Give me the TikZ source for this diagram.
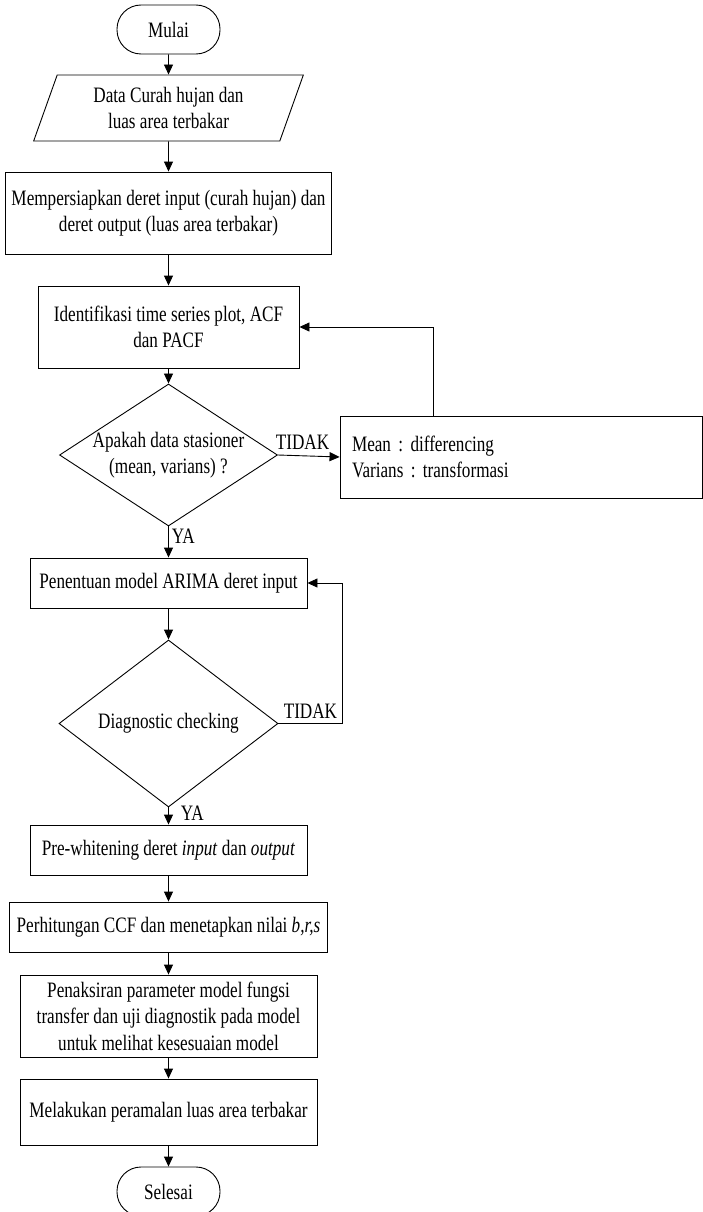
\documentclass[tikz,border=0pt]{standalone}
\usepackage{fontspec}
\setmainfont{Liberation Serif}[FakeStretch=0.78]
\usetikzlibrary{arrows.meta, shapes.geometric}

\begin{document}
\begin{tikzpicture}[
      x = 1pt, y = -1pt, line width = 0.9pt,
      font = \fontsize{22}{26.5}\selectfont\frenchspacing,
      Line/.style = {draw, -{Triangle[length=10pt, width=9pt]}},
      Terminal/.style = {draw, rectangle, rounded corners = 24pt, minimum width = 103pt, minimum height = 49pt, inner sep = 0pt},
      Data/.style = {draw, trapezium, trapezium left angle = 69.3, trapezium right angle = 110.7, trapezium stretches = true, inner sep = 0pt, align = center},
      Process/.style = {draw, rectangle, inner sep = 0pt, align = center},
      Decision/.style = {draw, diamond, inner sep = 0pt},
      Note/.style = {draw, rectangle, inner xsep = 12pt, text width = 338pt, align = left, minimum height = 82pt},
      Answer/.style = {inner sep = 3pt}
    ]
    \useasboundingbox (0,0) rectangle (703,1212);

    \node at (168.5,29.5) [Terminal] (mulai) {Mulai};
    \node at (168.5,108) [Data, minimum width = 270pt, minimum height = 66pt] (data) {Data Curah hujan dan\\luas area terbakar};
    \node at (168.5,213) [Process, minimum width = 326pt, minimum height = 82pt] (siap) {Mempersiapkan deret input (curah hujan) dan\\deret output (luas area terbakar)};
    \node at (168.5,327) [Process, minimum width = 261pt, minimum height = 82pt] (ident) {Identifikasi time series plot, ACF\\dan PACF};
    \node at (168.5,455) [Decision, minimum width = 218pt, minimum height = 142pt] (cek1) {};
    \node at (cek1) [align = center] (cek1teks) {Apakah data stasioner\\(mean, varians) ?};
    \node at (521,457) [Note] (trans) {Mean : differencing\\Varians : transformasi};
    \node at (168.5,583) [Process, minimum width = 277pt, minimum height = 50pt] (arima) {Penentuan model ARIMA deret input};
    \node at (168.5,723.5) [Decision, minimum width = 219pt, minimum height = 167pt] (cek2) {};
    \node at (cek2) (cek2teks) {Diagnostic checking};
    \node at (168.5,850) [Process, minimum width = 277pt, minimum height = 50pt] (prew) {Pre-whitening deret \textit{input} dan \textit{output}};
    \node at (168.5,927) [Process, minimum width = 318pt, minimum height = 50pt] (ccf) {Perhitungan CCF dan menetapkan nilai \textit{b,r,s}};
    \node at (168.5,1016) [Process, minimum width = 297pt, minimum height = 82pt] (taksir) {Penaksiran parameter model fungsi\\transfer dan uji diagnostik pada model\\untuk melihat kesesuaian model};
    \node at (168.5,1112) [Process, minimum width = 297pt, minimum height = 66pt] (ramal) {Melakukan peramalan luas area terbakar};
    \node at (168.5,1191.5) [Terminal] (selesai) {Selesai};

    % alur utama
    \foreach \a/\b in {mulai/data, data/siap, siap/ident, ident/cek1, arima/cek2, prew/ccf, ccf/taksir, taksir/ramal, ramal/selesai}
      \path [Line] (\a) -- (\b);
    \path [Line] (cek1) -- node[Answer, right, pos = 0.3] (ya1) {YA} (arima);
    \path [Line] (cek2) -- node[Answer, right, pos = 0.35, xshift = 9pt] (ya2) {YA} (prew);

    % umpan balik
    \path [Line] (cek1.east) -- node[Answer, above, pos = 0.4, yshift = 3pt] (tidak1) {TIDAK} (trans.west);
    \coordinate (balik1) at ([xshift = 94pt]trans.north west);
    \path [Line] (balik1) |- (ident.east);
    \path [Line] (cek2.east) -- node[Answer, above, yshift = 2pt] (tidak2) {TIDAK} ++(64,0) |- (arima.east);
  \end{tikzpicture}
\end{document}
